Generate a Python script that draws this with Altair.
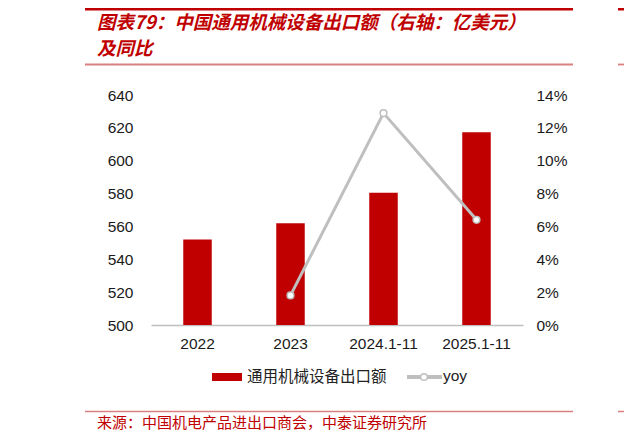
import altair as alt
import pandas as pd

# ---- data ----
categories = ["2022", "2023", "2024.1-11", "2025.1-11"]
export_values = [552.0, 562.0, 580.5, 617.3]      # 亿美元
yoy_values = [None, 0.018, 0.129, 0.064]          # 同比

left_ticks = [500, 520, 540, 560, 580, 600, 620, 640]
right_ticks = [0, 0.02, 0.04, 0.06, 0.08, 0.10, 0.12, 0.14]

title_lines = ["图表79：中国通用机械设备出口额（右轴：亿美元）", "及同比"]
legend_labels = ["通用机械设备出口额", "yoy"]
source_text = "来源：中国机电产品进出口商会，中泰证券研究所"

RED = "#C00000"
GREY = "#BFBFBF"
PALE = "#D98080"
CJK = "Noto Sans CJK SC"

df = pd.DataFrame({"period": categories, "export": export_values, "yoy": yoy_values})
dummy = pd.DataFrame({"k": [0]})

x = alt.X(
    "period:N", sort=categories,
    scale=alt.Scale(paddingInner=0, paddingOuter=0),
    axis=alt.Axis(title=None, labelAngle=0, ticks=False, domainColor=GREY,
                  domainWidth=1.5, labelPadding=11),
)

bars = alt.Chart(df).mark_bar(color=RED, size=28.5).encode(
    x=x,
    y=alt.Y("export:Q", scale=alt.Scale(domain=[500, 640], zero=False, nice=False),
            axis=alt.Axis(title=None, values=left_ticks, domain=False, ticks=False,
                          grid=False, labelPadding=18)),
    y2=alt.datum(500),
)

line = alt.Chart(df).transform_filter("isValid(datum.yoy)").mark_line(
    color=GREY, strokeWidth=3,
    point=alt.OverlayMarkDef(filled=True, fill="white", stroke=GREY, strokeWidth=1.5,
                             size=45, opacity=1),
).encode(
    x=x,
    y=alt.Y("yoy:Q", scale=alt.Scale(domain=[0, 0.14], nice=False),
            axis=alt.Axis(title=None, orient="right", format=".0%", values=right_ticks,
                          domain=False, ticks=False, grid=False, labelPadding=13)),
)

# plot origin is at page (151, 95)
OX, OY = 151, 95


def text(t, px, py, **kw):
    return alt.Chart(dummy).mark_text(text=t, align="left", baseline="middle", **kw).encode(
        x=alt.value(px - OX), y=alt.value(py - OY))


def hrule(px1, px2, py, color, w):
    return alt.Chart(dummy).mark_rule(color=color, strokeWidth=w).encode(
        x=alt.value(px1 - OX), x2=alt.value(px2 - OX), y=alt.value(py - OY))


decor = [
    hrule(85, 573, 9, RED, 3),
    hrule(618, 624, 9, RED, 3),
    hrule(85, 573, 64.5, PALE, 1.8),
    hrule(618, 624, 64.5, PALE, 1.8),
    hrule(85, 573, 411.5, PALE, 1.5),
    hrule(618, 624, 411.5, PALE, 1.5),
    text(title_lines[0], 97, 23, font=CJK, fontSize=18.5, fontWeight="bold",
         fontStyle="italic", color=RED),
    text(title_lines[1], 97, 49, font=CJK, fontSize=18.5, fontWeight="bold",
         fontStyle="italic", color=RED),
    text(source_text, 97, 423, font=CJK, fontSize=15, color=RED),
    # legend
    alt.Chart(dummy).mark_rect(color=RED).encode(
        x=alt.value(212 - OX), x2=alt.value(242 - OX),
        y=alt.value(373 - OY), y2=alt.value(381 - OY)),
    text(legend_labels[0], 247, 377, font=CJK, fontSize=15.5, color="#222222"),
    hrule(407, 442, 377, GREY, 4),
    alt.Chart(dummy).mark_point(filled=True, fill="white", stroke=GREY, strokeWidth=1.5,
                                size=45, opacity=1).encode(
        x=alt.value(424 - OX), y=alt.value(377 - OY)),
    text(legend_labels[1], 443, 376, font="Liberation Sans", fontSize=15.5, color="#222222"),
]

chart = alt.layer(bars, line, *decor).resolve_scale(y="independent").properties(
    width=372, height=230,
    padding={"left": 143, "top": 87, "right": 101, "bottom": 107},
    autosize=alt.AutoSizeParams(type="none"),
    background="white",
).configure_view(stroke=None).configure_axis(
    labelFont="Liberation Sans", labelFontSize=15.5, labelColor="#1a1a1a",
)

chart.save("out.html", embed_options={"renderer": "svg", "actions": False})
